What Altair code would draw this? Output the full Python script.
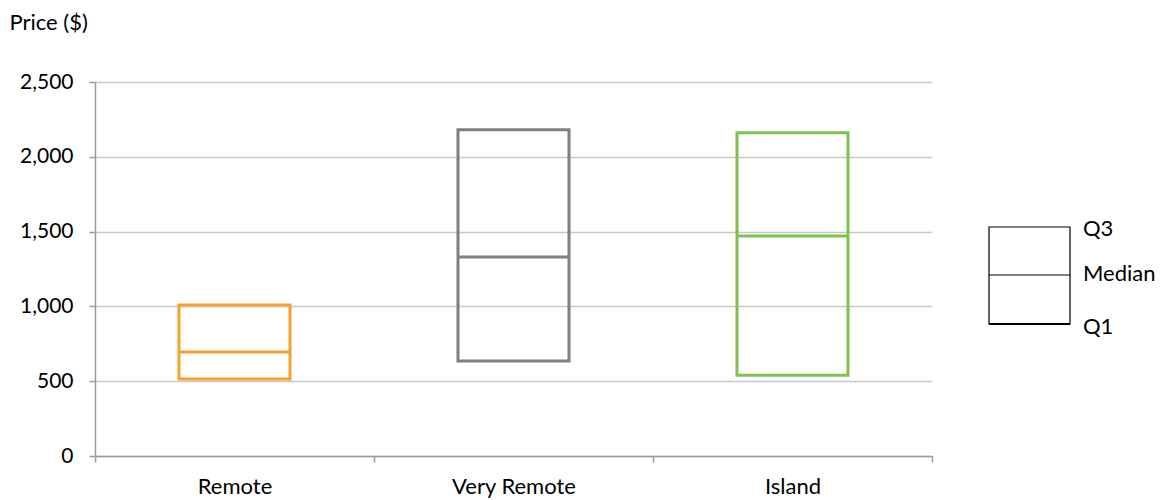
import altair as alt
import pandas as pd

categories = ["Remote", "Very Remote", "Island"]
q1 = [515, 635, 540]
median = [695, 1330, 1470]
q3 = [1010, 2180, 2160]
colors = ["#F7A12B", "#7F7F7F", "#7DC24F"]
legend_labels = ["Q3", "Median", "Q1"]

df = pd.DataFrame({"cat": categories, "q1": q1, "median": median, "q3": q3, "color": colors})

FONT = "Lato"
x = alt.X("cat:N", sort=categories, title=None,
          scale=alt.Scale(paddingInner=0, paddingOuter=0),
          axis=alt.Axis(tickBand="extent", grid=False, labelAngle=0, labelFontSize=22, labelFont=FONT,
                        labelColor="#000000", labelPadding=14, domainColor="#9a9a9a",
                        tickColor="#9a9a9a", tickSize=6, domainWidth=1.5, tickWidth=1.5))
y = alt.Y("q1:Q", title="Price ($)",
          scale=alt.Scale(domain=[0, 2500], nice=False, zero=True),
          axis=alt.Axis(values=[0, 500, 1000, 1500, 2000, 2500], format=",d",
                        labelFontSize=21, labelFont=FONT, labelColor="#000000",
                        labelPadding=16, gridColor="#c8c8c8", gridWidth=1.5,
                        domainColor="#9a9a9a", tickColor="#9a9a9a", tickSize=6,
                        domainWidth=1.5, tickWidth=1.5,
                        titleAngle=0, titleAlign="left", titleBaseline="middle",
                        titleX=-86, titleY=-60, titleFontSize=22, titleFont=FONT,
                        titleFontWeight="normal", titleColor="#000000"))

color = alt.Color("color:N", scale=None, legend=None)

boxes = alt.Chart(df).mark_bar(size=111, fill="white", fillOpacity=0, strokeWidth=3).encode(
    x=x, y=y, y2="q3:Q", stroke=alt.Stroke("color:N", scale=None, legend=None)
)
med = alt.Chart(df).mark_tick(size=111, thickness=3, opacity=1).encode(
    x=alt.X("cat:N", sort=categories), y=alt.Y("median:Q"), color=color
)

one = df.head(1)
# legend key
lg_box = alt.Chart(one).mark_rect(fill="white", stroke="#000000", strokeWidth=1.2).encode(
    x=alt.value(894), x2=alt.value(975), y=alt.value(145), y2=alt.value(242)
)
lg_q1 = alt.Chart(one).mark_rule(color="#000000", strokeWidth=2.2).encode(
    x=alt.value(894), x2=alt.value(975), y=alt.value(242)
)
lg_med = alt.Chart(one).mark_rule(color="#000000", strokeWidth=1.2).encode(
    x=alt.value(894), x2=alt.value(975), y=alt.value(193)
)
lg_texts = [
    alt.Chart(one).mark_text(align="left", baseline="middle", fontSize=22, font=FONT,
                             color="#000000", text=t).encode(x=alt.value(988), y=alt.value(yy))
    for t, yy in zip(legend_labels, [147, 192, 245])
]

chart = alt.layer(boxes, med, lg_box, lg_q1, lg_med, *lg_texts).properties(
    width=837, height=374,
    background="white",
    autosize=alt.AutoSizeParams(type="none"),
    padding={"left": 87, "top": 74, "right": 226, "bottom": 44},
).configure_view(strokeWidth=0, stroke="transparent")

chart.save("out.html", embed_options={"renderer": "svg", "actions": False})
